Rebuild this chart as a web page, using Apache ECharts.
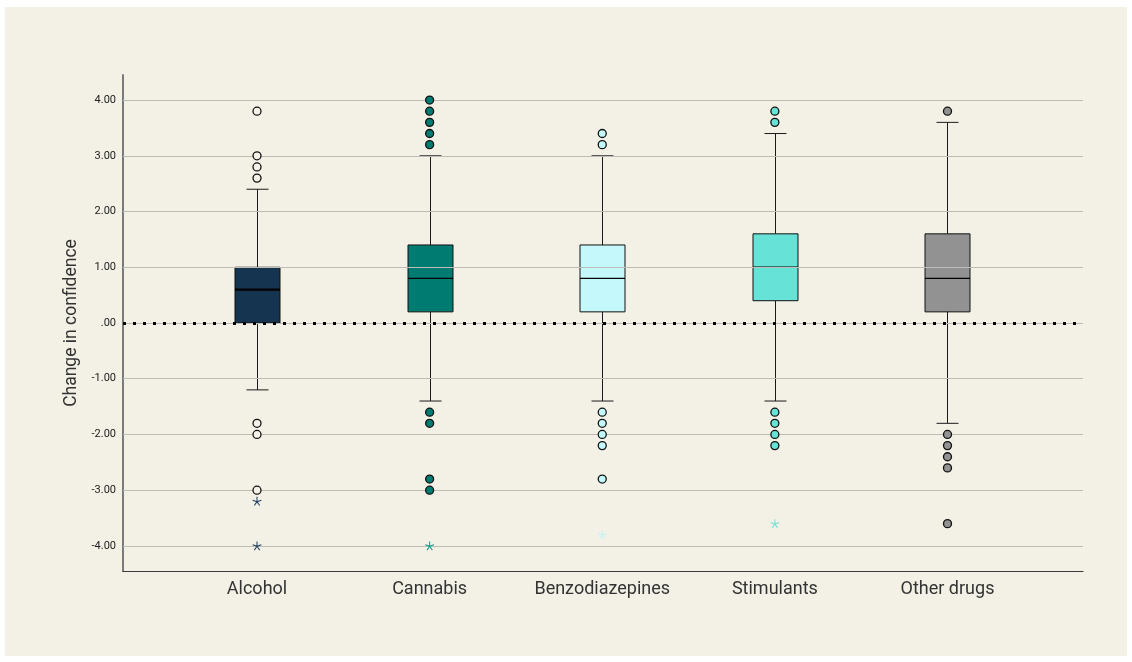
<!DOCTYPE html>
<html>
<head>
<meta charset="utf-8">
<title>Change in confidence by substance</title>
<script src="https://cdn.jsdelivr.net/npm/echarts@6/dist/echarts.min.js"></script>
<style>
  html, body { margin: 0; padding: 0; background: #ffffff; }
  #chart { width: 1132px; height: 662px; }
</style>
</head>
<body>
<div id="chart"></div>
<script>
// Substance groups along the horizontal axis
const categories = ['Alcohol', 'Cannabis', 'Benzodiazepines', 'Stimulants', 'Other drugs'];

// Five-number summaries per group
const whiskerLow  = [-1.2, -1.4, -1.4, -1.4, -1.8];
const quartile1   = [0.0, 0.2, 0.2, 0.4, 0.2];
const medians     = [0.6, 0.8, 0.8, 1.0, 0.8];
const quartile3   = [1.0, 1.4, 1.4, 1.6, 1.6];
const whiskerHigh = [2.4, 3.0, 3.0, 3.4, 3.6];

// Outliers (circles) and extreme values (asterisks)
const outliers = [
  [3.8, 3.0, 2.8, 2.6, -1.8, -2.0, -3.0],
  [4.0, 3.8, 3.6, 3.4, 3.2, -1.6, -1.8, -2.8, -3.0],
  [3.4, 3.2, -1.6, -1.8, -2.0, -2.2, -2.8],
  [3.8, 3.6, -1.6, -1.8, -2.0, -2.2],
  [3.8, -2.0, -2.2, -2.4, -2.6, -3.6]
];
const extremes = [
  [-3.2, -4.0],
  [-4.0],
  [-3.8],
  [-3.6],
  []
];

// Value-axis tick labels
const yTicks = [-4, -3, -2, -1, 0, 1, 2, 3, 4];

const boxColors     = ['#14344f', '#007b71', '#c4f8fb', '#67e2d6', '#929292'];
const outlierFill   = ['#f4f2e9', '#007b71', '#c4f8fb', '#67e2d6', '#929292'];
const extremeColors = ['#1d3c5c', '#14958a', '#c2f2f4', '#6fe0d6', '#929292'];

// Five-spoke asterisk symbol
function asteriskPath() {
  const r = 10, w = 1.1;
  let d = '';
  for (let k = 0; k < 5; k++) {
    const a = -Math.PI / 2 + k * 2 * Math.PI / 5;
    const ux = Math.cos(a), uy = Math.sin(a);
    const px = -uy * w, py = ux * w;
    const pts = [
      [px, py], [ux * r + px, uy * r + py], [ux * r - px, uy * r - py], [-px, -py]
    ];
    d += 'M' + pts.map(p => p[0].toFixed(2) + ',' + p[1].toFixed(2)).join(' L') + ' Z ';
  }
  return 'path://' + d;
}
const STAR = asteriskPath();

const boxData = categories.map((c, i) =>
  [i, whiskerLow[i], quartile1[i], medians[i], quartile3[i], whiskerHigh[i]]);

function renderBox(params, api) {
  const i = api.value(0);
  const pLo = api.coord([i, api.value(1)]);
  const pQ1 = api.coord([i, api.value(2)]);
  const pMd = api.coord([i, api.value(3)]);
  const pQ3 = api.coord([i, api.value(4)]);
  const pHi = api.coord([i, api.value(5)]);
  const cx = Math.round(pQ1[0]) + 0.5;
  const halfBox = 22.5, halfCap = 11;
  const lineStyle = { stroke: '#1a1a1a', lineWidth: 1 };
  return {
    type: 'group',
    children: [
      { type: 'line', shape: { x1: cx, y1: pHi[1], x2: cx, y2: pQ3[1] }, style: lineStyle },
      { type: 'line', shape: { x1: cx, y1: pQ1[1], x2: cx, y2: pLo[1] }, style: lineStyle },
      { type: 'line', shape: { x1: cx - halfCap, y1: pHi[1], x2: cx + halfCap, y2: pHi[1] }, style: lineStyle },
      { type: 'line', shape: { x1: cx - halfCap, y1: pLo[1], x2: cx + halfCap, y2: pLo[1] }, style: lineStyle },
      {
        type: 'rect',
        shape: { x: cx - halfBox, y: pQ3[1], width: halfBox * 2, height: pQ1[1] - pQ3[1] },
        style: { fill: boxColors[i], stroke: '#111111', lineWidth: 1 }
      },
      {
        type: 'line',
        shape: { x1: cx - halfBox, y1: pMd[1], x2: cx + halfBox, y2: pMd[1] },
        style: { stroke: '#000000', lineWidth: i === 0 ? 2.2 : 1.4 }
      }
    ]
  };
}

const series = [];

// Horizontal reference grid
series.push({
  type: 'scatter',
  data: [],
  z: 1,
  silent: true,
  markLine: {
    silent: true,
    symbol: 'none',
    animation: false,
    label: { show: false },
    lineStyle: { color: '#bdbcb6', width: 1, type: 'solid' },
    data: yTicks.map(v => ({ yAxis: v }))
  }
});

series.push({
  type: 'custom',
  renderItem: renderBox,
  data: boxData,
  z: 3,
  encode: { x: 0, y: [1, 2, 3, 4, 5] }
});

categories.forEach((c, i) => {
  series.push({
    type: 'scatter',
    name: c + ' outliers',
    data: outliers[i].map(v => [i, v]),
    symbol: 'circle',
    symbolSize: 8,
    z: 5,
    itemStyle: { color: outlierFill[i], borderColor: '#111111', borderWidth: 1.3, opacity: 1 }
  });
  series.push({
    type: 'scatter',
    name: c + ' extremes',
    data: extremes[i].map(v => [i, v]),
    symbol: STAR,
    symbolSize: 9,
    z: 5,
    itemStyle: { color: extremeColors[i], opacity: 1 }
  });
});

// Dotted zero reference line
series.push({
  type: 'scatter',
  data: [],
  z: 8,
  silent: true,
  markLine: {
    silent: true,
    symbol: 'none',
    animation: false,
    label: { show: false },
    lineStyle: { color: '#000000', width: 3, type: [3, 7], cap: 'butt' },
    data: [{ yAxis: 0 }]
  }
});

const chart = echarts.init(document.getElementById('chart'), null, { renderer: 'canvas' });
chart.setOption({
  animation: false,
  backgroundColor: 'transparent',
  textStyle: { fontFamily: 'Roboto, "Noto Sans", sans-serif' },
  graphic: [{
    type: 'rect',
    z: -10,
    silent: true,
    shape: { x: 5, y: 7, width: 1122, height: 649 },
    style: { fill: '#f3f1e6' }
  }],
  grid: { left: 123, right: 49, top: 75, bottom: 91, containLabel: false },
  xAxis: {
    type: 'value',
    min: -0.7763,
    max: 4.785,
    splitLine: { show: false },
    axisTick: { show: false },
    axisLine: { onZero: false, lineStyle: { color: '#3a3a3a', width: 1.2 } },
    axisLabel: {
      customValues: [0, 1, 2, 3, 4],
      formatter: v => categories[Math.round(v)] || '',
      color: '#333333',
      fontSize: 18,
      margin: 9
    }
  },
  yAxis: {
    type: 'value',
    min: -4.45,
    max: 4.45,
    name: 'Change in confidence',
    nameLocation: 'middle',
    nameGap: 39,
    nameTextStyle: { color: '#333333', fontSize: 17.5 },
    splitLine: { show: false },
    axisTick: { show: false },
    axisLine: { show: true, onZero: false, lineStyle: { color: '#7a7a7a', width: 2 } },
    axisLabel: {
      customValues: yTicks,
      formatter: v => (v === 0 ? '.00' : v.toFixed(2)),
      color: '#222222',
      fontSize: 11,
      margin: 7
    }
  },
  series: series
});
</script>
</body>
</html>
